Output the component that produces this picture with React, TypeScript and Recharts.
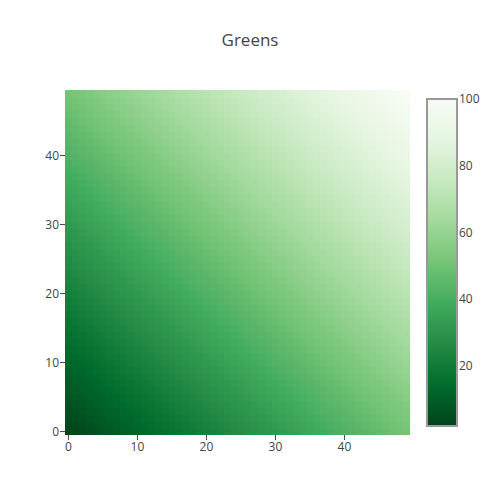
import { Bar, BarChart, Scatter, ScatterChart, XAxis, YAxis } from "recharts";

const xValues = [
  0, 1, 2, 3, 4, 5, 6, 7, 8, 9, 10, 11, 12, 13, 14, 15, 16, 17, 18, 19, 20, 21, 22, 23, 24,
  25, 26, 27, 28, 29, 30, 31, 32, 33, 34, 35, 36, 37, 38, 39, 40, 41, 42, 43, 44, 45, 46, 47, 48, 49,
];
const yValues = [
  0, 1, 2, 3, 4, 5, 6, 7, 8, 9, 10, 11, 12, 13, 14, 15, 16, 17, 18, 19, 20, 21, 22, 23, 24,
  25, 26, 27, 28, 29, 30, 31, 32, 33, 34, 35, 36, 37, 38, 39, 40, 41, 42, 43, 44, 45, 46, 47, 48, 49,
];
const xTicks = [0, 10, 20, 30, 40];
const yTicks = [0, 10, 20, 30, 40];
const colorbarTicks = [20, 40, 60, 80, 100];
const zMin = 2;
const zMax = 100;

// plotly "Greens"
const greens: [number, number[]][] = [
  [0, [0, 68, 27]],
  [0.125, [0, 109, 44]],
  [0.25, [35, 139, 69]],
  [0.375, [65, 171, 93]],
  [0.5, [116, 196, 118]],
  [0.625, [161, 217, 155]],
  [0.75, [199, 233, 192]],
  [0.875, [229, 245, 224]],
  [1, [247, 252, 245]],
];

// rows go bottom (y = 0) to top (y = 49)
const zRows = [
  [2,3,4,5,6,7,8,9,10,11,12,13,14,15,16,17,18,19,20,21,22,23,24,25,26,27,28,29,30,31,32,33,34,35,36,37,38,39,40,41,42,43,44,45,46,47,48,49,50,51],
  [3,4,5,6,7,8,9,10,11,12,13,14,15,16,17,18,19,20,21,22,23,24,25,26,27,28,29,30,31,32,33,34,35,36,37,38,39,40,41,42,43,44,45,46,47,48,49,50,51,52],
  [4,5,6,7,8,9,10,11,12,13,14,15,16,17,18,19,20,21,22,23,24,25,26,27,28,29,30,31,32,33,34,35,36,37,38,39,40,41,42,43,44,45,46,47,48,49,50,51,52,53],
  [5,6,7,8,9,10,11,12,13,14,15,16,17,18,19,20,21,22,23,24,25,26,27,28,29,30,31,32,33,34,35,36,37,38,39,40,41,42,43,44,45,46,47,48,49,50,51,52,53,54],
  [6,7,8,9,10,11,12,13,14,15,16,17,18,19,20,21,22,23,24,25,26,27,28,29,30,31,32,33,34,35,36,37,38,39,40,41,42,43,44,45,46,47,48,49,50,51,52,53,54,55],
  [7,8,9,10,11,12,13,14,15,16,17,18,19,20,21,22,23,24,25,26,27,28,29,30,31,32,33,34,35,36,37,38,39,40,41,42,43,44,45,46,47,48,49,50,51,52,53,54,55,56],
  [8,9,10,11,12,13,14,15,16,17,18,19,20,21,22,23,24,25,26,27,28,29,30,31,32,33,34,35,36,37,38,39,40,41,42,43,44,45,46,47,48,49,50,51,52,53,54,55,56,57],
  [9,10,11,12,13,14,15,16,17,18,19,20,21,22,23,24,25,26,27,28,29,30,31,32,33,34,35,36,37,38,39,40,41,42,43,44,45,46,47,48,49,50,51,52,53,54,55,56,57,58],
  [10,11,12,13,14,15,16,17,18,19,20,21,22,23,24,25,26,27,28,29,30,31,32,33,34,35,36,37,38,39,40,41,42,43,44,45,46,47,48,49,50,51,52,53,54,55,56,57,58,59],
  [11,12,13,14,15,16,17,18,19,20,21,22,23,24,25,26,27,28,29,30,31,32,33,34,35,36,37,38,39,40,41,42,43,44,45,46,47,48,49,50,51,52,53,54,55,56,57,58,59,60],
  [12,13,14,15,16,17,18,19,20,21,22,23,24,25,26,27,28,29,30,31,32,33,34,35,36,37,38,39,40,41,42,43,44,45,46,47,48,49,50,51,52,53,54,55,56,57,58,59,60,61],
  [13,14,15,16,17,18,19,20,21,22,23,24,25,26,27,28,29,30,31,32,33,34,35,36,37,38,39,40,41,42,43,44,45,46,47,48,49,50,51,52,53,54,55,56,57,58,59,60,61,62],
  [14,15,16,17,18,19,20,21,22,23,24,25,26,27,28,29,30,31,32,33,34,35,36,37,38,39,40,41,42,43,44,45,46,47,48,49,50,51,52,53,54,55,56,57,58,59,60,61,62,63],
  [15,16,17,18,19,20,21,22,23,24,25,26,27,28,29,30,31,32,33,34,35,36,37,38,39,40,41,42,43,44,45,46,47,48,49,50,51,52,53,54,55,56,57,58,59,60,61,62,63,64],
  [16,17,18,19,20,21,22,23,24,25,26,27,28,29,30,31,32,33,34,35,36,37,38,39,40,41,42,43,44,45,46,47,48,49,50,51,52,53,54,55,56,57,58,59,60,61,62,63,64,65],
  [17,18,19,20,21,22,23,24,25,26,27,28,29,30,31,32,33,34,35,36,37,38,39,40,41,42,43,44,45,46,47,48,49,50,51,52,53,54,55,56,57,58,59,60,61,62,63,64,65,66],
  [18,19,20,21,22,23,24,25,26,27,28,29,30,31,32,33,34,35,36,37,38,39,40,41,42,43,44,45,46,47,48,49,50,51,52,53,54,55,56,57,58,59,60,61,62,63,64,65,66,67],
  [19,20,21,22,23,24,25,26,27,28,29,30,31,32,33,34,35,36,37,38,39,40,41,42,43,44,45,46,47,48,49,50,51,52,53,54,55,56,57,58,59,60,61,62,63,64,65,66,67,68],
  [20,21,22,23,24,25,26,27,28,29,30,31,32,33,34,35,36,37,38,39,40,41,42,43,44,45,46,47,48,49,50,51,52,53,54,55,56,57,58,59,60,61,62,63,64,65,66,67,68,69],
  [21,22,23,24,25,26,27,28,29,30,31,32,33,34,35,36,37,38,39,40,41,42,43,44,45,46,47,48,49,50,51,52,53,54,55,56,57,58,59,60,61,62,63,64,65,66,67,68,69,70],
  [22,23,24,25,26,27,28,29,30,31,32,33,34,35,36,37,38,39,40,41,42,43,44,45,46,47,48,49,50,51,52,53,54,55,56,57,58,59,60,61,62,63,64,65,66,67,68,69,70,71],
  [23,24,25,26,27,28,29,30,31,32,33,34,35,36,37,38,39,40,41,42,43,44,45,46,47,48,49,50,51,52,53,54,55,56,57,58,59,60,61,62,63,64,65,66,67,68,69,70,71,72],
  [24,25,26,27,28,29,30,31,32,33,34,35,36,37,38,39,40,41,42,43,44,45,46,47,48,49,50,51,52,53,54,55,56,57,58,59,60,61,62,63,64,65,66,67,68,69,70,71,72,73],
  [25,26,27,28,29,30,31,32,33,34,35,36,37,38,39,40,41,42,43,44,45,46,47,48,49,50,51,52,53,54,55,56,57,58,59,60,61,62,63,64,65,66,67,68,69,70,71,72,73,74],
  [26,27,28,29,30,31,32,33,34,35,36,37,38,39,40,41,42,43,44,45,46,47,48,49,50,51,52,53,54,55,56,57,58,59,60,61,62,63,64,65,66,67,68,69,70,71,72,73,74,75],
  [27,28,29,30,31,32,33,34,35,36,37,38,39,40,41,42,43,44,45,46,47,48,49,50,51,52,53,54,55,56,57,58,59,60,61,62,63,64,65,66,67,68,69,70,71,72,73,74,75,76],
  [28,29,30,31,32,33,34,35,36,37,38,39,40,41,42,43,44,45,46,47,48,49,50,51,52,53,54,55,56,57,58,59,60,61,62,63,64,65,66,67,68,69,70,71,72,73,74,75,76,77],
  [29,30,31,32,33,34,35,36,37,38,39,40,41,42,43,44,45,46,47,48,49,50,51,52,53,54,55,56,57,58,59,60,61,62,63,64,65,66,67,68,69,70,71,72,73,74,75,76,77,78],
  [30,31,32,33,34,35,36,37,38,39,40,41,42,43,44,45,46,47,48,49,50,51,52,53,54,55,56,57,58,59,60,61,62,63,64,65,66,67,68,69,70,71,72,73,74,75,76,77,78,79],
  [31,32,33,34,35,36,37,38,39,40,41,42,43,44,45,46,47,48,49,50,51,52,53,54,55,56,57,58,59,60,61,62,63,64,65,66,67,68,69,70,71,72,73,74,75,76,77,78,79,80],
  [32,33,34,35,36,37,38,39,40,41,42,43,44,45,46,47,48,49,50,51,52,53,54,55,56,57,58,59,60,61,62,63,64,65,66,67,68,69,70,71,72,73,74,75,76,77,78,79,80,81],
  [33,34,35,36,37,38,39,40,41,42,43,44,45,46,47,48,49,50,51,52,53,54,55,56,57,58,59,60,61,62,63,64,65,66,67,68,69,70,71,72,73,74,75,76,77,78,79,80,81,82],
  [34,35,36,37,38,39,40,41,42,43,44,45,46,47,48,49,50,51,52,53,54,55,56,57,58,59,60,61,62,63,64,65,66,67,68,69,70,71,72,73,74,75,76,77,78,79,80,81,82,83],
  [35,36,37,38,39,40,41,42,43,44,45,46,47,48,49,50,51,52,53,54,55,56,57,58,59,60,61,62,63,64,65,66,67,68,69,70,71,72,73,74,75,76,77,78,79,80,81,82,83,84],
  [36,37,38,39,40,41,42,43,44,45,46,47,48,49,50,51,52,53,54,55,56,57,58,59,60,61,62,63,64,65,66,67,68,69,70,71,72,73,74,75,76,77,78,79,80,81,82,83,84,85],
  [37,38,39,40,41,42,43,44,45,46,47,48,49,50,51,52,53,54,55,56,57,58,59,60,61,62,63,64,65,66,67,68,69,70,71,72,73,74,75,76,77,78,79,80,81,82,83,84,85,86],
  [38,39,40,41,42,43,44,45,46,47,48,49,50,51,52,53,54,55,56,57,58,59,60,61,62,63,64,65,66,67,68,69,70,71,72,73,74,75,76,77,78,79,80,81,82,83,84,85,86,87],
  [39,40,41,42,43,44,45,46,47,48,49,50,51,52,53,54,55,56,57,58,59,60,61,62,63,64,65,66,67,68,69,70,71,72,73,74,75,76,77,78,79,80,81,82,83,84,85,86,87,88],
  [40,41,42,43,44,45,46,47,48,49,50,51,52,53,54,55,56,57,58,59,60,61,62,63,64,65,66,67,68,69,70,71,72,73,74,75,76,77,78,79,80,81,82,83,84,85,86,87,88,89],
  [41,42,43,44,45,46,47,48,49,50,51,52,53,54,55,56,57,58,59,60,61,62,63,64,65,66,67,68,69,70,71,72,73,74,75,76,77,78,79,80,81,82,83,84,85,86,87,88,89,90],
  [42,43,44,45,46,47,48,49,50,51,52,53,54,55,56,57,58,59,60,61,62,63,64,65,66,67,68,69,70,71,72,73,74,75,76,77,78,79,80,81,82,83,84,85,86,87,88,89,90,91],
  [43,44,45,46,47,48,49,50,51,52,53,54,55,56,57,58,59,60,61,62,63,64,65,66,67,68,69,70,71,72,73,74,75,76,77,78,79,80,81,82,83,84,85,86,87,88,89,90,91,92],
  [44,45,46,47,48,49,50,51,52,53,54,55,56,57,58,59,60,61,62,63,64,65,66,67,68,69,70,71,72,73,74,75,76,77,78,79,80,81,82,83,84,85,86,87,88,89,90,91,92,93],
  [45,46,47,48,49,50,51,52,53,54,55,56,57,58,59,60,61,62,63,64,65,66,67,68,69,70,71,72,73,74,75,76,77,78,79,80,81,82,83,84,85,86,87,88,89,90,91,92,93,94],
  [46,47,48,49,50,51,52,53,54,55,56,57,58,59,60,61,62,63,64,65,66,67,68,69,70,71,72,73,74,75,76,77,78,79,80,81,82,83,84,85,86,87,88,89,90,91,92,93,94,95],
  [47,48,49,50,51,52,53,54,55,56,57,58,59,60,61,62,63,64,65,66,67,68,69,70,71,72,73,74,75,76,77,78,79,80,81,82,83,84,85,86,87,88,89,90,91,92,93,94,95,96],
  [48,49,50,51,52,53,54,55,56,57,58,59,60,61,62,63,64,65,66,67,68,69,70,71,72,73,74,75,76,77,78,79,80,81,82,83,84,85,86,87,88,89,90,91,92,93,94,95,96,97],
  [49,50,51,52,53,54,55,56,57,58,59,60,61,62,63,64,65,66,67,68,69,70,71,72,73,74,75,76,77,78,79,80,81,82,83,84,85,86,87,88,89,90,91,92,93,94,95,96,97,98],
  [50,51,52,53,54,55,56,57,58,59,60,61,62,63,64,65,66,67,68,69,70,71,72,73,74,75,76,77,78,79,80,81,82,83,84,85,86,87,88,89,90,91,92,93,94,95,96,97,98,99],
  [51,52,53,54,55,56,57,58,59,60,61,62,63,64,65,66,67,68,69,70,71,72,73,74,75,76,77,78,79,80,81,82,83,84,85,86,87,88,89,90,91,92,93,94,95,96,97,98,99,100],
];

const FONT = "'Open Sans', sans-serif";
const TEXT = "#444";

// plot box inside the 500x500 chart
const PLOT_LEFT = 65;
const PLOT_RIGHT = 410;
const PLOT_TOP = 90;
const PLOT_BOTTOM = 435;
const CELL_W = (PLOT_RIGHT - PLOT_LEFT) / xValues.length;
const CELL_H = (PLOT_BOTTOM - PLOT_TOP) / yValues.length;

const zColor = (z: number) => {
  const t = Math.min(1, Math.max(0, (z - zMin) / (zMax - zMin)));
  for (let i = 1; i < greens.length; i++) {
    const [p1, c1] = greens[i];
    const [p0, c0] = greens[i - 1];
    if (t <= p1) {
      const f = (t - p0) / (p1 - p0);
      const c = c0.map((v, k) => Math.round(v + (c1[k] - v) * f));
      return `rgb(${c[0]},${c[1]},${c[2]})`;
    }
  }
  const last = greens[greens.length - 1][1];
  return `rgb(${last[0]},${last[1]},${last[2]})`;
};

const cells = zRows.flatMap((row, yi) =>
  row.map((z, xi) => ({ x: xValues[xi], y: yValues[yi], z }))
);

const colorbarData = [{ name: "z", range: [zMin, zMax] }];

const HeatCell = (props: any) => {
  const { cx, cy, payload } = props;
  if (cx == null || cy == null) return null;
  return (
    <rect
      x={cx - CELL_W / 2}
      y={cy - CELL_H / 2}
      width={CELL_W + 0.6}
      height={CELL_H + 0.6}
      fill={zColor(payload.z)}
      shapeRendering="crispEdges"
    />
  );
};

export default function App() {
  return (
    <div
      style={{
        position: "absolute",
        left: 0,
        top: 0,
        width: 500,
        height: 500,
        background: "#fff",
        fontFamily: FONT,
      }}
    >
      <div
        style={{
          position: "absolute",
          top: 28,
          width: 500,
          textAlign: "center",
          fontSize: 17,
          color: TEXT,
        }}
      >
        Greens
      </div>

      <div style={{ position: "absolute", left: 0, top: 0 }}>
        <ScatterChart
          width={500}
          height={500}
          margin={{ top: PLOT_TOP, right: 500 - PLOT_RIGHT, bottom: 35, left: 0 }}
        >
          <XAxis
            type="number"
            dataKey="x"
            domain={[-0.5, 49.5]}
            ticks={xTicks}
            interval={0}
            allowDataOverflow
            height={30}
            axisLine={false}
            tickLine={{ stroke: TEXT }}
            tickSize={5}
            tickMargin={2}
            tick={{ fill: TEXT, fontSize: 12, fontFamily: FONT }}
          />
          <YAxis
            type="number"
            dataKey="y"
            domain={[-0.5, 49.5]}
            ticks={yTicks}
            interval={0}
            allowDataOverflow
            width={PLOT_LEFT}
            axisLine={false}
            tickLine={{ stroke: TEXT }}
            tickSize={5}
            tickMargin={1}
            tick={{ fill: TEXT, fontSize: 12, fontFamily: FONT }}
          />
          <Scatter data={cells} shape={HeatCell} isAnimationActive={false} />
        </ScatterChart>
      </div>

      <div style={{ position: "absolute", left: 0, top: 0 }}>
        <BarChart
          width={500}
          height={500}
          data={colorbarData}
          barCategoryGap={0}
          margin={{ top: 99, right: 0, bottom: 74, left: 427 }}
        >
          <defs>
            <linearGradient id="greensBar" x1="0" y1="1" x2="0" y2="0">
              {greens.map(([p, c]) => (
                <stop key={p} offset={p} stopColor={`rgb(${c[0]},${c[1]},${c[2]})`} />
              ))}
            </linearGradient>
          </defs>
          <XAxis dataKey="name" hide />
          <YAxis
            orientation="right"
            type="number"
            domain={[zMin, zMax]}
            ticks={colorbarTicks}
            interval={0}
            width={43}
            axisLine={false}
            tickLine={false}
            tickSize={0}
            tickMargin={2}
            tick={{ fill: TEXT, fontSize: 12, fontFamily: FONT }}
          />
          <Bar
            dataKey="range"
            fill="url(#greensBar)"
            stroke="#999"
            strokeWidth={2}
            isAnimationActive={false}
          />
        </BarChart>
      </div>
    </div>
  );
}
